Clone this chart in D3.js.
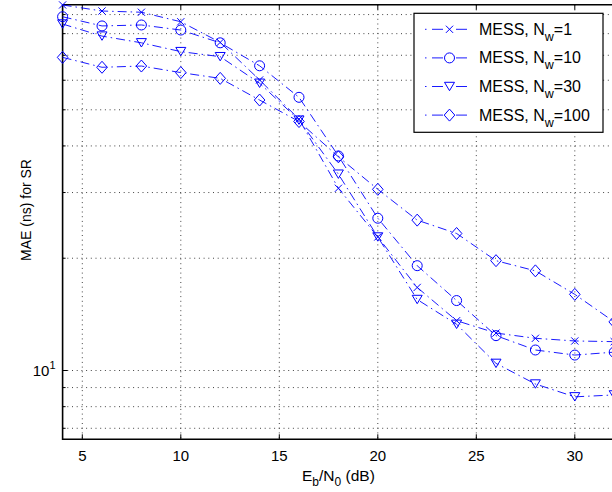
<!DOCTYPE html>
<html>
<head>
<meta charset="utf-8" />
<title>MAE for SR</title>
<script src="https://cdn.jsdelivr.net/npm/d3@7/dist/d3.min.js"></script>
<style>
  body { margin: 0; background: #fff; }
  svg { font-family: "Liberation Sans", Arial, sans-serif; display: block; }
</style>
</head>
<body>
<div id="canvas"></div>
<script>
// Eb/N0 (dB) sample points
const ebn0 = [4, 6, 8, 10, 12, 14, 16, 18, 20, 22, 24, 26, 28, 30, 32];
// MAE (ns) for each window size
const maeNw1 = [95.5, 92.0, 91.3, 86.1, 75.8, 60.1, 47.2, 30.8, 22.8, 16.7, 13.6, 12.6, 12.2, 12.0, 11.95];
const maeNw10 = [88.8, 83.9, 84.4, 81.8, 75.6, 65.6, 54.0, 37.6, 25.6, 19.1, 15.4, 12.4, 11.35, 11.0, 11.2];
const maeNw30 = [84.9, 78.8, 75.6, 71.6, 69.4, 58.9, 46.9, 33.6, 22.8, 15.5, 13.3, 10.45, 9.2, 8.5, 8.6];
const maeNw100 = [69.1, 65.0, 65.5, 62.9, 60.7, 53.1, 46.5, 37.4, 30.6, 25.3, 23.3, 19.7, 18.5, 16.0, 13.5];
const windowSizes = [1, 10, 30, 100];
const markerTypes = ["x", "o", "v", "d"];
const xTicks = [5, 10, 15, 20, 25, 30];
const yLabelTicks = [10];

const width = 612, height = 492;
const mLeft = 62.6, mRight = 614.2, mTop = 4.7, mBottom = 439.3;
const blue = "#0000ff";

const x = d3.scaleLinear().domain([4, 32]).range([mLeft, mRight]);
const y = d3.scaleLog().domain([6.54, 95.65]).range([mBottom, mTop]);

const svg = d3.select("#canvas").append("svg")
  .attr("width", width)
  .attr("height", height)
  .attr("viewBox", [0, 0, width, height]);

// grid
const grid = svg.append("g")
  .attr("stroke", "#444")
  .attr("stroke-width", 1)
  .attr("stroke-dasharray", "1,3.7");
grid.selectAll(".gx").data(xTicks).join("line")
  .attr("x1", d => x(d)).attr("x2", d => x(d))
  .attr("y1", mTop).attr("y2", mBottom);
grid.selectAll(".gy").data(y.ticks()).join("line")
  .attr("x1", mLeft).attr("x2", mRight)
  .attr("y1", d => y(d)).attr("y2", d => y(d));

// ticks (inside, MATLAB style)
const ticks = svg.append("g").attr("stroke", "#000").attr("stroke-width", 1);
ticks.selectAll(".tb").data(xTicks).join("line")
  .attr("x1", d => x(d)).attr("x2", d => x(d))
  .attr("y1", mBottom).attr("y2", mBottom - 5);
ticks.selectAll(".tt").data(xTicks).join("line")
  .attr("x1", d => x(d)).attr("x2", d => x(d))
  .attr("y1", mTop).attr("y2", mTop + 5);
ticks.selectAll(".ty").data(y.ticks()).join("line")
  .attr("x1", mLeft).attr("x2", d => mLeft + (d === 10 ? 5 : 3))
  .attr("y1", d => y(d)).attr("y2", d => y(d));

// axes box
svg.append("path")
  .attr("fill", "none")
  .attr("stroke", "#000")
  .attr("stroke-width", 1.6)
  .attr("d", `M${mLeft},${mTop}V${mBottom}H${mRight}M${mLeft},${mTop}H${mRight}`);

// tick labels
svg.append("g")
  .attr("font-size", 15)
  .attr("text-anchor", "middle")
  .selectAll("text").data(xTicks).join("text")
  .attr("x", d => x(d))
  .attr("y", mBottom + 22)
  .text(d => d);

const yl = svg.append("g").attr("font-size", 15)
  .selectAll("text").data(yLabelTicks).join("text")
  .attr("x", mLeft - 7)
  .attr("y", d => y(d) + 5.5)
  .attr("text-anchor", "end");
yl.append("tspan").text("10");
yl.append("tspan").attr("font-size", 11).attr("dy", -7).text(d => Math.log10(d));

// axis labels
const xl = svg.append("text")
  .attr("x", (mLeft + mRight) / 2)
  .attr("y", 481)
  .attr("font-size", 15.5)
  .attr("text-anchor", "middle");
xl.append("tspan").text("E");
xl.append("tspan").attr("font-size", 12).attr("dy", 5).text("b");
xl.append("tspan").attr("dy", -5).text("/N");
xl.append("tspan").attr("font-size", 12).attr("dy", 5).text("0");
xl.append("tspan").attr("dy", -5).text(" (dB)");

svg.append("text")
  .attr("transform", "translate(31,210) rotate(-90)")
  .attr("font-size", 14)
  .attr("text-anchor", "middle")
  .text("MAE (ns) for SR");

// marker shapes
function markerPath(type) {
  if (type === "x") return "M-3.6,-3.6L3.6,3.6M-3.6,3.6L3.6,-3.6";
  if (type === "o") return d3.arc()({innerRadius: 0, outerRadius: 5, startAngle: 0, endAngle: 2 * Math.PI});
  if (type === "v") return "M-5,-4.2L5,-4.2L0,4.2Z";
  return "M0,-6L5.3,0L0,6L-5.3,0Z";
}

const series = [maeNw1, maeNw10, maeNw30, maeNw100].map((vals, i) => ({
  n: windowSizes[i],
  marker: markerTypes[i],
  points: ebn0.map((e, j) => [e, vals[j]])
}));

const line = d3.line().x(d => x(d[0])).y(d => y(d[1]));

const sg = svg.append("g").selectAll("g").data(series).join("g");
sg.append("path")
  .attr("fill", "none")
  .attr("stroke", blue)
  .attr("stroke-width", 0.9)
  .attr("stroke-dasharray", "9,4,1.5,4")
  .attr("d", d => line(d.points));
sg.each(function (s) {
  d3.select(this).selectAll("path.m").data(s.points).join("path")
    .attr("class", "m")
    .attr("fill", "none")
    .attr("stroke", blue)
    .attr("stroke-width", 1)
    .attr("transform", d => `translate(${x(d[0])},${y(d[1])})`)
    .attr("d", markerPath(s.marker));
});

// legend
const lg = svg.append("g");
lg.append("rect")
  .attr("x", 414).attr("y", 13.3)
  .attr("width", 189).attr("height", 119)
  .attr("fill", "#fff")
  .attr("stroke", "#000")
  .attr("stroke-width", 1.2);
const rows = lg.selectAll("g.row").data(series).join("g")
  .attr("class", "row")
  .attr("transform", (d, i) => `translate(0,${29.3 + i * 28.6})`);
rows.append("line")
  .attr("x1", 425).attr("x2", 467)
  .attr("stroke", blue)
  .attr("stroke-width", 0.9)
  .attr("stroke-dasharray", "1.5,5.5,11,13,11");
rows.append("path")
  .attr("transform", "translate(449.5,0)")
  .attr("fill", "none")
  .attr("stroke", blue)
  .attr("stroke-width", 1)
  .attr("d", d => markerPath(d.marker));
const lt = rows.append("text")
  .attr("x", 479)
  .attr("y", 5.5)
  .attr("font-size", 16);
lt.append("tspan").text("MESS, N");
lt.append("tspan").attr("font-size", 12.5).attr("dy", 6).text("w");
lt.append("tspan").attr("dy", -6).text(d => "=" + d.n);
</script>
</body>
</html>
